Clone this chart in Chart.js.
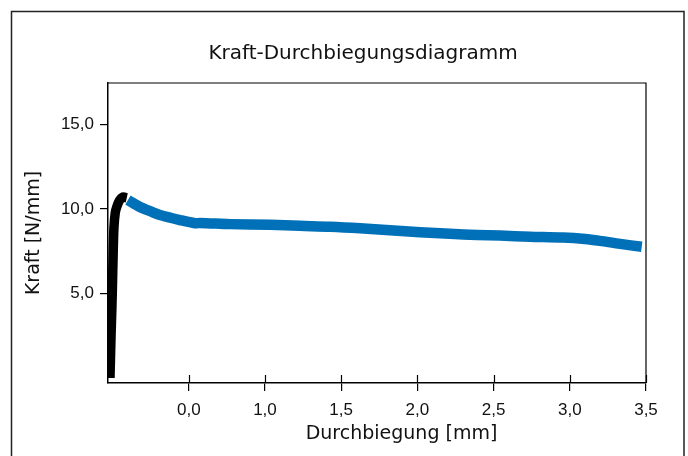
<!DOCTYPE html>
<html>
<head>
<meta charset="utf-8">
<script src="https://cdn.jsdelivr.net/npm/chart.js@4/dist/chart.umd.min.js"></script>
<style>
  body { margin: 0; background: #fff; }
  #wrap { width: 688px; height: 456px; position: relative; }
</style>
</head>
<body>
<div id="wrap"><canvas id="myChart"></canvas></div>
<script>
// Kraft-Durchbiegung
const chartTitle = 'Kraft-Durchbiegungsdiagramm';
const xTitle = 'Durchbiegung [mm]';
const yTitle = 'Kraft [N/mm]';

const blackX = [-0.017, -0.010, -0.005, -0.002, 0.003, 0.009, 0.018, 0.027, 0.045, 0.068, 0.093];
const blackY = [0.0, 2.5, 4.0, 5.0, 7.0, 8.9, 9.8, 10.1, 10.5, 10.7, 10.65];

const blueX = [0.101, 0.18, 0.25, 0.311, 0.442, 0.541, 0.574, 0.77, 1.033, 1.23, 1.427, 1.624, 1.82, 2.017, 2.214, 2.391, 2.542, 2.74, 2.956, 3.10, 3.198, 3.33, 3.472];
const blueY = [10.53, 10.11, 9.85, 9.64, 9.34, 9.15, 9.17, 9.10, 9.06, 9.00, 8.95, 8.86, 8.74, 8.62, 8.53, 8.46, 8.42, 8.36, 8.31, 8.22, 8.11, 7.93, 7.76];

const xTickValues = [0.5, 1.0, 1.5, 2.0, 2.5, 3.0, 3.5];
const xTickLabels = ["0,0", "1,0", "1,5", "2,0", "2,5", "3,0", "3,5"];
const yTickValues = [5, 10, 15];
const yTickLabels = ["5,0", "10,0", "15,0"];

function toPoints(xs, ys) {
    let pts = [];
    for (let i in xs) {
        pts.push({x: xs[i], y: ys[i]});
    }
    return pts;
}

// outer frame, box around the plot, inner half of x ticks, title texts
const framePlugin = {
    id: 'frame',
    beforeDraw(chart) {
        const ctx = chart.ctx;
        ctx.save();
        ctx.strokeStyle = '#222';
        ctx.lineWidth = 1.5;
        ctx.strokeRect(11.5, 11.5, 672.5, 500);
        ctx.restore();
    },
    afterDraw(chart) {
        const ctx = chart.ctx;
        const a = chart.chartArea;
        ctx.save();
        ctx.strokeStyle = '#000';
        ctx.lineWidth = 1.2;
        ctx.beginPath();
        ctx.moveTo(a.left, a.top);
        ctx.lineTo(a.right, a.top);
        ctx.lineTo(a.right, a.bottom);
        ctx.stroke();
        const xs = chart.scales.x;
        ctx.beginPath();
        for (let v of xTickValues) {
            let px = Math.round(xs.getPixelForValue(v)) + 0.5;
            ctx.moveTo(px, a.bottom);
            ctx.lineTo(px, a.bottom - 8);
        }
        ctx.stroke();

        ctx.fillStyle = '#111';
        ctx.textAlign = 'center';
        ctx.textBaseline = 'middle';
        ctx.font = '20px "DejaVu Sans"';
        ctx.fillText(chartTitle, 363, 54);
        ctx.font = '19px "DejaVu Sans"';
        ctx.fillText(xTitle, 401.5, 434);
        ctx.restore();
    }
};

const ctx = document.getElementById('myChart');
new Chart(ctx, {
    type: 'scatter',
    data: {
        datasets: [{
            label: 'Anstieg',
            data: toPoints(blackX, blackY),
            showLine: true,
            borderColor: '#000',
            borderWidth: 9.5,
            pointRadius: 0,
            tension: 0.3,
            borderCapStyle: 'butt'
        }, {
            label: 'Verlauf',
            data: toPoints(blueX, blueY),
            showLine: true,
            borderColor: '#0070b8',
            borderWidth: 10.5,
            pointRadius: 0,
            tension: 0.3,
            borderCapStyle: 'butt'
        }]
    },
    options: {
        responsive: true,
        maintainAspectRatio: false,
        animation: false,
        layout: { padding: { left: 0, right: 42, top: 83, bottom: 0 } },
        plugins: {
            legend: { display: false },
            tooltip: { enabled: false },
            title: { display: false }
        },
        scales: {
            x: {
                type: 'linear',
                min: -0.03,
                max: 3.5,
                afterBuildTicks: (scale) => {
                    scale.ticks = xTickValues.map(v => ({ value: v }));
                },
                afterFit: (scale) => { scale.height = 73; },
                ticks: {
                    color: '#111',
                    font: { family: 'Liberation Sans', size: 17 },
                    padding: 8.8,
                    maxRotation: 0,
                    callback: (val, i) => xTickLabels[i]
                },
                grid: { drawOnChartArea: false, drawTicks: true, tickLength: 8, color: '#000', lineWidth: 1.2 },
                border: { display: true, color: '#000', width: 1.5 },
                title: { display: false }
            },
            y: {
                type: 'linear',
                min: -0.3,
                max: 17.45,
                afterBuildTicks: (scale) => {
                    scale.ticks = yTickValues.map(v => ({ value: v }));
                },
                afterFit: (scale) => { scale.width = 108; },
                ticks: {
                    color: '#111',
                    font: { family: 'Liberation Sans', size: 17 },
                    padding: 6,
                    callback: (val, i) => yTickLabels[i]
                },
                grid: { drawOnChartArea: false, drawTicks: true, tickLength: 8, color: '#000', lineWidth: 1.2 },
                border: { display: true, color: '#000', width: 1.5 },
                title: {
                    display: true,
                    text: yTitle,
                    color: '#111',
                    font: { family: 'DejaVu Sans', size: 19 },
                    padding: { top: 22.6, bottom: 0 }
                }
            }
        }
    },
    plugins: [framePlugin]
});
</script>
</body>
</html>
